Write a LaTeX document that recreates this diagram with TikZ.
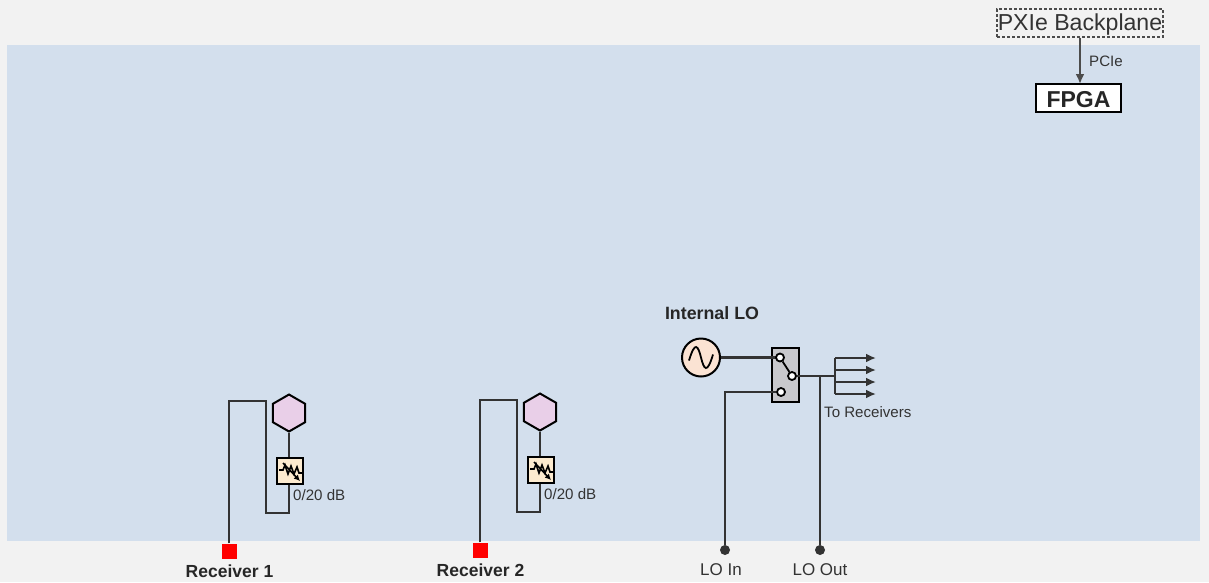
\documentclass[tikz,border=0pt]{standalone}
\usepackage{fontspec}
\setmainfont{Liberation Sans}
\usetikzlibrary{calc}
\usetikzlibrary{arrows.meta}
\usetikzlibrary{shapes.geometric}
\tikzset{>={Latex[length=10pt,width=9pt]}}
\definecolor{pagecol}{HTML}{F2F2F2}
\definecolor{panelcol}{HTML}{D3DFED}
\definecolor{hexcol}{HTML}{E9CFE8}
\definecolor{attcol}{HTML}{FDEBCF}
\definecolor{osccol}{HTML}{FBE3D3}
\definecolor{swcol}{HTML}{C8C8CC}
\definecolor{txtcol}{HTML}{333333}
\tikzset{
  wire/.style={line width=2.4pt,draw=black!80},
  mixer/.style={regular polygon,regular polygon sides=6,shape border rotate=30,draw,line width=2pt,fill=hexcol,inner sep=0pt,minimum size=37pt},
  attbox/.style={rectangle,draw,line width=2pt,fill=attcol,inner sep=0pt,minimum size=26pt},
  port/.style={rectangle,fill=red,inner sep=0pt,minimum size=15pt},
  pin/.style={circle,fill=black!80,inner sep=0pt,minimum size=10pt},
  contact/.style={circle,draw,line width=1.8pt,fill=white,inner sep=0pt,minimum size=8pt},
  lbl/.style={text=txtcol,font=\fontsize{15.1}{18}\selectfont,inner sep=0pt},
  biglbl/.style={text=black!85,font=\fontsize{17.5}{20}\selectfont\bfseries,inner sep=0pt}
}
\newcommand{\attsym}[1]{
  \draw[line width=1.6pt] ($(#1)+(-11,-1)$) -- ($(#1)+(-7,-1)$) -- ($(#1)+(-5,-6)$) -- ($(#1)+(-2,3)$) -- ($(#1)+(1,-5)$) -- ($(#1)+(4,3)$) -- ($(#1)+(7,-4)$) -- ($(#1)+(9,2)$) -- ($(#1)+(12,2)$);
  \draw[line width=1.6pt,-{Latex[length=6pt,width=6pt]}] ($(#1)+(-7,-8)$) -- ($(#1)+(10,10)$);
}
\begin{document}
\begin{tikzpicture}[x=1pt,y=-1pt]
  \useasboundingbox (0,0) rectangle (1209,582);
  \fill[pagecol] (0,0) rectangle (1209,582);
  \fill[panelcol] (7,45) rectangle (1200,541);

  % backplane
  \node[draw=black!70,densely dashed,line width=1.2pt,minimum width=166pt,minimum height=28pt,inner sep=0pt,text=txtcol,text height=20pt,text depth=4.4pt,font=\fontsize{23.1}{26}\selectfont] (backplane) at (1080,23) {PXIe Backplane};
  \node[draw,line width=1.8pt,fill=white,minimum width=85pt,minimum height=28pt,inner sep=0pt,text height=18.5pt,text depth=0pt,font=\fontsize{23}{26}\selectfont\bfseries,text=black!85] (fpga) at (1078.5,98) {FPGA};
  \coordinate (fpgatop) at (1080,84);
  \draw[line width=2pt,draw=black!70,->] (backplane.south -| fpgatop) -- (fpgatop);
  \node[lbl] (pcie) at (1106,61) {PCIe};

  % receiver 1
  \node[port] (rx1) at (229,551) {};
  \node[mixer] (mix1) at (289,413) {};
  \node[attbox] (att1) at (290,471) {};
  \attsym{att1}
  \coordinate (rx1a) at (229,401);
  \coordinate (rx1b) at (266,401);
  \coordinate (rx1c) at (266,513);
  \coordinate (rx1d) at (289,513);
  \draw[wire] (rx1) -- (rx1a) -- (rx1b) -- (rx1c) -- (rx1d) -- (rx1d |- att1.south);
  \draw[wire] (mix1) -- (mix1 |- att1.north);
  \node[lbl,anchor=west] (gain1) at (293,495) {0/20 dB};
  \node[biglbl] (rx1txt) at (229.5,571) {Receiver 1};

  % receiver 2
  \node[port] (rx2) at (480,550) {};
  \node[mixer] (mix2) at (540,412) {};
  \node[attbox] (att2) at (541,470) {};
  \attsym{att2}
  \coordinate (rx2a) at (480,400);
  \coordinate (rx2b) at (517,400);
  \coordinate (rx2c) at (517,512);
  \coordinate (rx2d) at (540,512);
  \draw[wire] (rx2) -- (rx2a) -- (rx2b) -- (rx2c) -- (rx2d) -- (rx2d |- att2.south);
  \draw[wire] (mix2) -- (mix2 |- att2.north);
  \node[lbl,anchor=west] (gain2) at (544,494) {0/20 dB};
  \node[biglbl] (rx2txt) at (480.5,570) {Receiver 2};

  % LO section
  \node[biglbl,font=\fontsize{17.8}{20}\selectfont\bfseries] (lotxt) at (712,313) {Internal LO};
  \node[circle,draw,line width=2pt,fill=osccol,inner sep=0pt,minimum size=38pt] (osc) at (701,357.5) {};
  \draw[line width=1.8pt] ($(osc)+(-12,3)$) .. controls ($(osc)+(-6,-17)$) and ($(osc)+(-3,-12)$) .. (osc.center) .. controls ($(osc)+(3,12)$) and ($(osc)+(6,17)$) .. ($(osc)+(12,-3)$);
  \node[rectangle,draw,line width=2pt,fill=swcol,inner sep=0pt,minimum width=27pt,minimum height=54pt] (switch) at (785.5,375) {};
  \coordinate (swaw) at (780,357.5);
  \draw[wire] (osc) -- (swaw);
  \node[contact] (swa) at (swaw) {};
  \node[contact] (swb) at (792,376) {};
  \node[contact] (swc) at (781,392) {};
  \draw[line width=1.8pt] (swa) -- (swb);
  \node[pin] (loin) at (725,550) {};
  \node[pin] (loout) at (820,550) {};
  \coordinate (loinup) at (725,392);
  \coordinate (fan) at (835,376);
  \coordinate (tap) at (820,376);
  \draw[wire] (loin) -- (loinup) -- (swc);
  \draw[wire] (swb) -- (fan);
  \draw[wire] (loout) -- (tap);
  \coordinate (fana) at (835,358);
  \coordinate (fanb) at (835,370);
  \coordinate (fanc) at (835,382);
  \coordinate (fand) at (835,394);
  \coordinate (enda) at (876,358);
  \coordinate (endb) at (876,370);
  \coordinate (endc) at (876,382);
  \coordinate (endd) at (876,394);
  \draw[wire] (fana) -- (fand);
  \draw[wire,->] (fana) -- (enda);
  \draw[wire,->] (fanb) -- (endb);
  \draw[wire,->] (fanc) -- (endc);
  \draw[wire,->] (fand) -- (endd);
  \node[lbl,anchor=west] (totxt) at (824,412) {To Receivers};
  \node[lbl,font=\fontsize{17}{20}\selectfont] (lointxt) at (721,570) {LO In};
  \node[lbl,font=\fontsize{17}{20}\selectfont] (looutxt) at (820,570) {LO Out};
\end{tikzpicture}
\end{document}
